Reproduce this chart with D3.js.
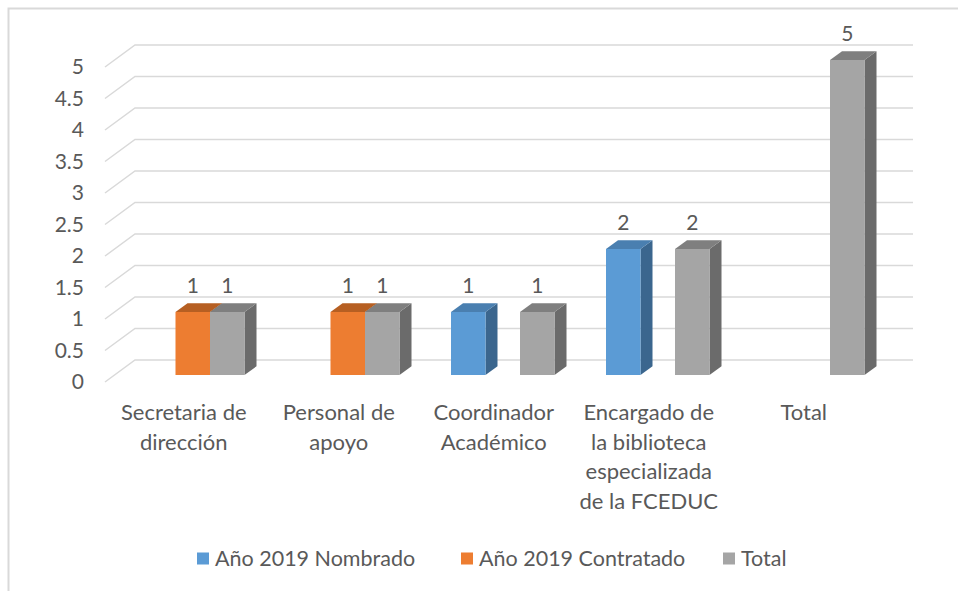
<!DOCTYPE html>
<html>
<head>
<meta charset="utf-8">
<script src="https://cdn.jsdelivr.net/npm/d3@7"></script>
<style>
  html, body { margin: 0; padding: 0; background: #fff; }
  svg { display: block; }
  text { font-family: Lato, "Open Sans", sans-serif; fill: #595959; }
</style>
</head>
<body>
<svg id="chart" width="958" height="591"></svg>
<script>
// ---- Data ----
const categories = [
  ["Secretaria de", "dirección"],
  ["Personal de", "apoyo"],
  ["Coordinador", "Académico"],
  ["Encargado de", "la biblioteca", "especializada", "de la FCEDUC"],
  ["Total"]
];
const seriesNames = ["Año 2019 Nombrado", "Año 2019 Contratado", "Total"];
const nombrado   = [null, null, 1, 2, null];
const contratado = [1, 1, null, null, null];
const total      = [1, 1, 1, 2, 5];
const yTicks = [0, 0.5, 1, 1.5, 2, 2.5, 3, 3.5, 4, 4.5, 5];

const seriesValues = [nombrado, contratado, total];
const colors = [
  { front: "#5B9BD5", top: "#4A7FB0", side: "#3B668E" },
  { front: "#ED7D31", top: "#B65F22", side: "#9E5420" },
  { front: "#A5A5A5", top: "#7F7F7F", side: "#6B6B6B" }
];

const svg = d3.select("#chart");

// border (top and left visible)
svg.append("path")
  .attr("d", "M8.5,591 L8.5,8.5 L958,8.5")
  .attr("fill", "none").attr("stroke", "#d9d9d9").attr("stroke-width", 2);

// ---- Scales ----
const y = d3.scaleLinear().domain([0, 5]).range([360, 45]);     // back wall
const wallLeft = 135, wallRight = 913;
const floorDx = -30, floorDy = 22;        // front edge offset from back wall
const barDy = 15;                          // bar front face offset from back wall
const depthDx = 12, depthDy = -8.7;        // bar depth

const x0 = d3.scaleBand().domain(d3.range(categories.length)).range([115.25, 890.25]).padding(0);
const x1 = d3.scaleBand().domain(d3.range(3)).range([25.75, x0.bandwidth() - 25.75]).padding(0);

// ---- Gridlines ----
const grid = svg.append("g");
yTicks.forEach(t => {
  const yb = y(t);
  grid.append("path")
    .attr("d", `M${wallLeft + floorDx},${yb + floorDy} L${wallLeft},${yb} L${wallRight},${yb}`)
    .attr("fill", "none").attr("stroke", "#d9d9d9").attr("stroke-width", 1.5);
});

// ---- Y labels ----
svg.append("g").selectAll("text").data(yTicks).join("text")
  .attr("x", 84)
  .attr("y", d => y(d) + floorDy)
  .attr("dy", "0.35em")
  .attr("text-anchor", "end")
  .attr("font-size", 21)
  .text(d => d);

// ---- Bars ----
const bars = [];
categories.forEach((c, ci) => {
  seriesValues.forEach((vals, si) => {
    if (vals[ci] != null) bars.push({ ci, si, v: vals[ci] });
  });
});
const gBars = svg.append("g");
bars.forEach(b => {
  const xl = x0(b.ci) + x1(b.si);
  const w = x1.bandwidth();
  const yt = y(b.v) + barDy;
  const yb = y(0) + barDy;
  const col = colors[b.si];
  const g = gBars.append("g");
  // side
  g.append("path")
    .attr("d", `M${xl + w},${yt} L${xl + w + depthDx},${yt + depthDy} L${xl + w + depthDx},${yb + depthDy} L${xl + w},${yb} Z`)
    .attr("fill", col.side);
  // top
  g.append("path")
    .attr("d", `M${xl},${yt} L${xl + depthDx},${yt + depthDy} L${xl + w + depthDx},${yt + depthDy} L${xl + w},${yt} Z`)
    .attr("fill", col.top);
  // front
  g.append("rect")
    .attr("x", xl).attr("y", yt).attr("width", w).attr("height", yb - yt)
    .attr("fill", col.front);
  // label
  svg.append("text")
    .attr("x", xl + w / 2)
    .attr("y", yt - 19)
    .attr("text-anchor", "middle")
    .attr("font-size", 21)
    .attr("fill", "#404040")
    .text(b.v);
});

// ---- Category labels ----
const gCat = svg.append("g");
categories.forEach((lines, ci) => {
  const cx = x0(ci) + x0.bandwidth() / 2 - 9;
  const t = gCat.append("text")
    .attr("text-anchor", "middle")
    .attr("font-size", 22);
  lines.forEach((ln, li) => {
    t.append("tspan").attr("x", cx).attr("y", 420 + li * 29.6).text(ln);
  });
});

// ---- Legend ----
const legendX = [197, 461, 723];
const gLeg = svg.append("g");
seriesNames.forEach((name, i) => {
  gLeg.append("rect")
    .attr("x", legendX[i]).attr("y", 552.5).attr("width", 12).attr("height", 12)
    .attr("fill", colors[i].front);
  gLeg.append("text")
    .attr("x", legendX[i] + 18).attr("y", 558.5).attr("dy", "0.35em")
    .attr("font-size", 21.5)
    .text(name);
});
</script>
</body>
</html>
